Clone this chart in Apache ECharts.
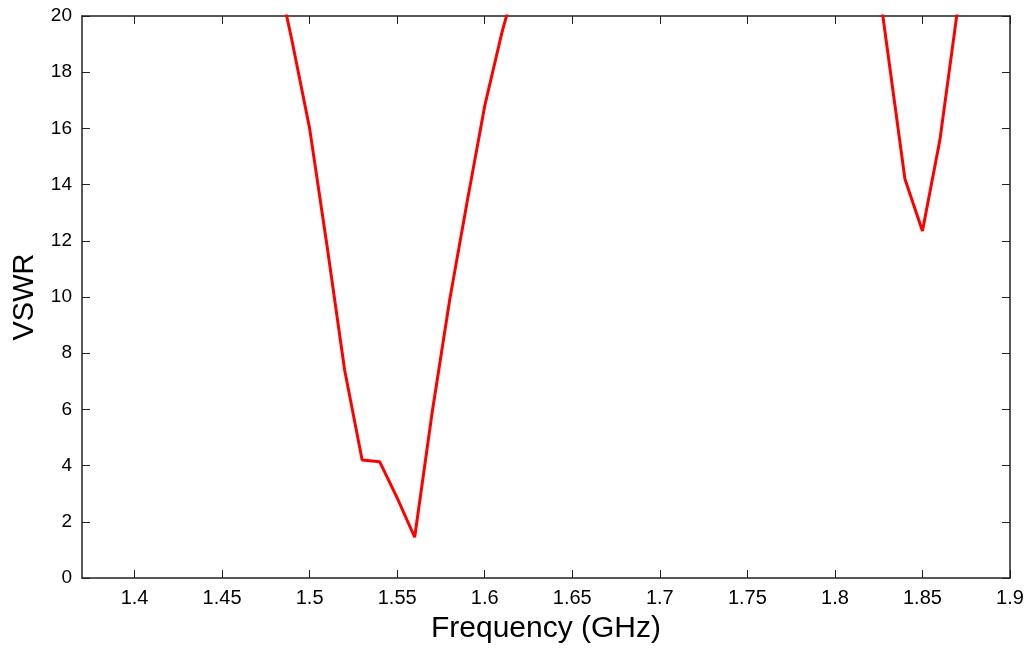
<!DOCTYPE html>
<html>
<head>
<meta charset="utf-8">
<script src="https://cdn.jsdelivr.net/npm/echarts@6/dist/echarts.min.js"></script>
<style>
  html, body { margin: 0; padding: 0; background: #fff; }
  #chart { width: 1030px; height: 650px; }
</style>
</head>
<body>
<div id="chart"></div>
<script>
// frequency (GHz) and VSWR (values above 20 are clipped)
const freq = [1.48, 1.49, 1.50, 1.51, 1.52, 1.53, 1.54, 1.55, 1.56, 1.57, 1.58, 1.59, 1.60, 1.61, 1.62,
              1.82, 1.83, 1.84, 1.85, 1.86, 1.87, 1.88];
const vswr = [22.0, 19.1, 16.0, 11.8, 7.4, 4.2, 4.14, 2.85, 1.45, 5.9, 9.9, 13.4, 16.8, 19.45, 21.7,
              23.4, 18.8, 14.2, 12.35, 15.6, 20.2, 24.0];
const xTicks = [1.4, 1.45, 1.5, 1.55, 1.6, 1.65, 1.7, 1.75, 1.8, 1.85, 1.9];

const chart = echarts.init(document.getElementById("chart"));

const font = "Liberation Sans, Arial, sans-serif";
const axisColor = "#222";
const lineStyle = { color: axisColor, width: 1.5 };

const option = {
  animation: false,
  grid: { left: 82, right: 20, top: 16, bottom: 72 },
  xAxis: [
    {
      type: "value",
      min: 1.37,
      max: 1.9,
      name: "Frequency (GHz)",
      nameLocation: "middle",
      nameGap: 36,
      nameTextStyle: { fontFamily: font, fontSize: 30, color: "#000" },
      axisLine: { show: true, onZero: false, lineStyle: lineStyle },
      axisTick: { show: true, inside: true, length: 8, customValues: xTicks, lineStyle: { color: axisColor } },
      axisLabel: { customValues: xTicks, fontFamily: font, fontSize: 20, color: "#000", margin: 10 },
      splitLine: { show: false },
    },
    {
      type: "value",
      position: "top",
      min: 1.37,
      max: 1.9,
      axisLine: { show: true, onZero: false, lineStyle: lineStyle },
      axisTick: { show: true, inside: true, length: 8, customValues: xTicks, lineStyle: { color: axisColor } },
      axisLabel: { show: false },
      splitLine: { show: false },
    },
  ],
  yAxis: [
    {
      type: "value",
      min: 0,
      max: 20,
      interval: 2,
      name: "VSWR",
      nameLocation: "middle",
      nameGap: 43,
      nameTextStyle: { fontFamily: font, fontSize: 29, color: "#000" },
      axisLine: { show: true, onZero: false, lineStyle: lineStyle },
      axisTick: { show: true, inside: true, length: 8, lineStyle: { color: axisColor } },
      axisLabel: { fontFamily: font, fontSize: 19, color: "#000", margin: 10 },
      splitLine: { show: false },
    },
    {
      type: "value",
      position: "right",
      min: 0,
      max: 20,
      interval: 2,
      axisLine: { show: true, onZero: false, lineStyle: lineStyle },
      axisTick: { show: true, inside: true, length: 8, lineStyle: { color: axisColor } },
      axisLabel: { show: false },
      splitLine: { show: false },
    },
  ],
  series: [
    {
      type: "line",
      xAxisIndex: 0,
      yAxisIndex: 0,
      data: freq.map((f, i) => [f, vswr[i]]),
      showSymbol: false,
      clip: true,
      lineStyle: { color: "#ff0000", width: 3 },
    },
  ],
};

chart.setOption(option);
</script>
</body>
</html>
